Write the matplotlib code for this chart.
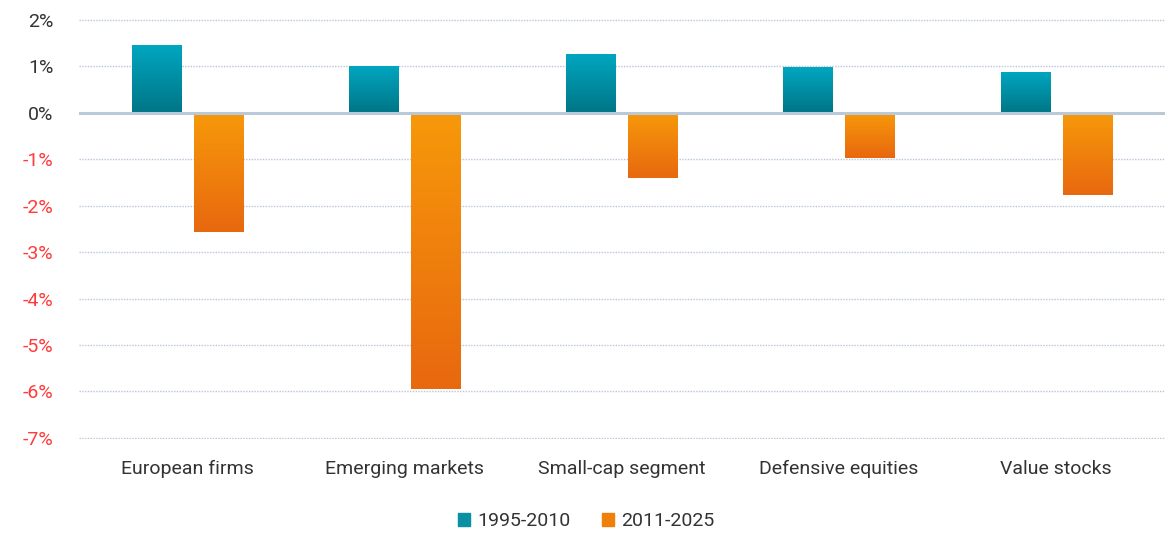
import matplotlib.pyplot as plt
import numpy as np
from matplotlib.colors import LinearSegmentedColormap
from matplotlib.patches import Patch

categories = ['European firms', 'Emerging markets', 'Small-cap segment', 'Defensive equities', 'Value stocks']
early = [1.46, 1.0, 1.26, 0.98, 0.88]
late = [-2.57, -5.95, -1.41, -0.98, -1.76]
labels = ['1995-2010', '2011-2025']

plt.rcParams['font.family'] = ['Roboto', 'DejaVu Sans']

teal_cmap = LinearSegmentedColormap.from_list('teal', ['#00a6c0', '#007586'])
orange_cmap = LinearSegmentedColormap.from_list('orange', ['#f7990a', '#e8680f'])

fig, ax = plt.subplots(figsize=(11.73, 5.33), dpi=100)
fig.subplots_adjust(left=0.067, right=0.993, top=0.965, bottom=0.176)

x = np.arange(len(categories))
w = 0.226
b1 = ax.bar(x - 0.143, early, w, color='none')
b2 = ax.bar(x + 0.143, late, w, color='none')

grad = np.linspace(0, 1, 256).reshape(-1, 1)
for bars, cmap in [(b1, teal_cmap), (b2, orange_cmap)]:
    for bar in bars:
        x0 = bar.get_x()
        y0 = bar.get_y()
        h = bar.get_height()
        top, bottom = max(y0, y0 + h), min(y0, y0 + h)
        ax.imshow(grad, cmap=cmap, aspect='auto', extent=(x0, x0 + bar.get_width(), bottom, top),
                  origin='upper', zorder=2)

ax.set_xlim(-0.5, len(categories) - 0.5)
ax.set_ylim(-7.03, 2.03)
ax.set_yticks(range(-7, 3))
ax.set_yticklabels([f'{v}%' for v in range(-7, 3)])
for lbl, v in zip(ax.get_yticklabels(), range(-7, 3)):
    lbl.set_color('#ff3b3b' if v < 0 else '#333333')

ax.yaxis.grid(True, linestyle=(0, (1, 1)), color='#b8c6d6', linewidth=1)
ax.set_axisbelow(True)
ax.axhline(0, color='#b9c9d8', linewidth=2.2, zorder=3)

for s in ax.spines.values():
    s.set_visible(False)
ax.tick_params(axis='both', length=0, labelsize=14)
ax.tick_params(axis='y', pad=18)
ax.set_xticks(x)
ax.set_xticklabels(categories, color='#333333')
ax.tick_params(axis='x', pad=15)

handles = [Patch(color='#0a8fa3'), Patch(color='#f0800c')]
fig.legend(handles, labels, loc='lower center', ncol=2, frameon=False, fontsize=14,
           bbox_to_anchor=(0.5, -0.028), handlelength=0.6, handleheight=0.6,
           handletextpad=0.4, columnspacing=1.6, labelcolor='#333333')

plt.savefig('out.png')
